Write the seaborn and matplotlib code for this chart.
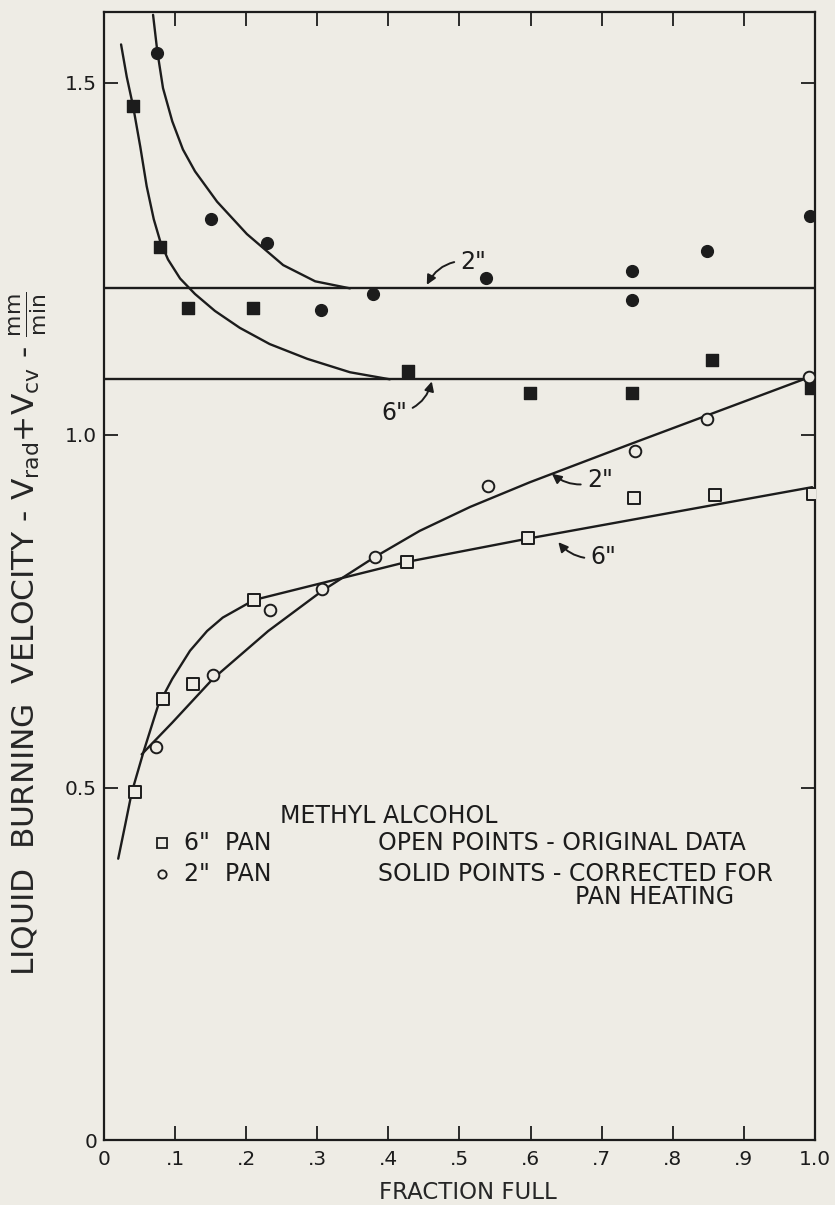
import matplotlib
matplotlib.use("Agg")
import matplotlib.pyplot as plt
import seaborn as sns
import pandas as pd

# ---------------- data ----------------
# solid points (corrected for pan heating)
x_2in_corr = [0.075, 0.150, 0.229, 0.305, 0.378, 0.537, 0.743, 0.743, 0.848, 0.993]
y_2in_corr = [1.542, 1.307, 1.272, 1.178, 1.200, 1.222, 1.232, 1.192, 1.261, 1.311]
x_6in_corr = [0.041, 0.079, 0.118, 0.209, 0.428, 0.599, 0.743, 0.855, 0.994]
y_6in_corr = [1.466, 1.266, 1.180, 1.180, 1.091, 1.059, 1.059, 1.106, 1.066]
# open points (original data)
x_2in_orig = [0.073, 0.153, 0.233, 0.307, 0.381, 0.540, 0.747, 0.848, 0.992]
y_2in_orig = [0.558, 0.660, 0.752, 0.782, 0.827, 0.928, 0.977, 1.023, 1.082]
x_6in_orig = [0.044, 0.083, 0.125, 0.211, 0.426, 0.596, 0.745, 0.859, 0.997]
y_6in_orig = [0.493, 0.626, 0.647, 0.766, 0.820, 0.854, 0.911, 0.915, 0.916]

# hand-drawn curves
cx_2in_corr = [0.069, 0.075, 0.083, 0.096, 0.111, 0.128, 0.159, 0.201, 0.252, 0.297, 0.346]
cy_2in_corr = [1.596, 1.544, 1.492, 1.445, 1.405, 1.374, 1.331, 1.285, 1.241, 1.218, 1.208]
cx_6in_corr = [0.024, 0.032, 0.041, 0.051, 0.060, 0.070, 0.079, 0.090, 0.107, 0.128,
               0.156, 0.191, 0.233, 0.286, 0.346, 0.402]
cy_6in_corr = [1.554, 1.508, 1.466, 1.409, 1.353, 1.306, 1.275, 1.249, 1.222, 1.200,
               1.176, 1.152, 1.129, 1.108, 1.089, 1.079]
level_2in = 1.208   # flat line, 2" pan
level_6in = 1.079   # flat line, 6" pan
cx_2in_orig = [0.053, 0.096, 0.153, 0.231, 0.307, 0.381, 0.444, 0.515, 0.599, 0.740, 0.992]
cy_2in_orig = [0.547, 0.592, 0.654, 0.722, 0.779, 0.827, 0.864, 0.898, 0.933, 0.987, 1.082]
cx_6in_orig = [0.020, 0.030, 0.039, 0.056, 0.076, 0.096, 0.121, 0.145, 0.167, 0.211,
               0.426, 0.596, 0.996]
cy_6in_orig = [0.399, 0.448, 0.493, 0.552, 0.616, 0.654, 0.694, 0.722, 0.741, 0.766,
               0.820, 0.853, 0.926]

x_ticks = [0.0, 0.1, 0.2, 0.3, 0.4, 0.5, 0.6, 0.7, 0.8, 0.9, 1.0]
x_tick_labels = ["0", ".1", ".2", ".3", ".4", ".5", ".6", ".7", ".8", ".9", "1.0"]
y_ticks = [0.0, 0.5, 1.0, 1.5]
y_tick_labels = ["0", "0.5", "1.0", "1.5"]

# ---------------- style ----------------
BG = "#EEECE5"
INK = "#1c1c1c"
sns.set_theme(style="ticks")
plt.rcParams["font.family"] = ["DejaVu Sans"]
plt.rcParams["mathtext.fontset"] = "dejavusans"
plt.rcParams["text.color"] = INK
plt.rcParams["axes.edgecolor"] = INK
plt.rcParams["xtick.color"] = INK
plt.rcParams["ytick.color"] = INK

fig = plt.figure(figsize=(8.35, 12.05), dpi=100, facecolor=BG)
ax = fig.add_axes([104 / 835, 1 - 1140 / 1205, 711 / 835, 1128 / 1205])
ax.set_facecolor(BG)

LW = 1.7
def curve(xs, ys):
    df = pd.DataFrame({"x": xs, "y": ys})
    sns.lineplot(data=df, x="x", y="y", ax=ax, color=INK, lw=LW, sort=False,
                 estimator=None, legend=False)

curve(cx_2in_corr, cy_2in_corr)
curve(cx_6in_corr, cy_6in_corr)
curve([0.0, 1.0], [level_2in, level_2in])
curve([0.0, 1.0], [level_6in, level_6in])
curve(cx_2in_orig, cy_2in_orig)
curve(cx_6in_orig, cy_6in_orig)

def pts(xs, ys, marker, filled, size, lw):
    df = pd.DataFrame({"x": xs, "y": ys})
    sns.scatterplot(data=df, x="x", y="y", ax=ax, marker=marker, s=size,
                    facecolor=INK if filled else BG, edgecolor=INK,
                    linewidth=lw, legend=False, zorder=5)

pts(x_2in_corr, y_2in_corr, "o", True, 72, 1.0)
pts(x_6in_corr, y_6in_corr, "s", True, 80, 1.0)
pts(x_2in_orig, y_2in_orig, "o", False, 70, 1.4)
pts(x_6in_orig, y_6in_orig, "s", False, 70, 1.4)

# ---------------- axes ----------------
ax.set_xlim(0, 1.0)
ax.set_ylim(0, 1.6)
ax.set_xticks(x_ticks)
ax.set_xticklabels(x_tick_labels)
ax.set_yticks(y_ticks)
ax.set_yticklabels(y_tick_labels)
ax.tick_params(axis="both", direction="in", length=10, width=1.3, labelsize=14.5,
               top=True, right=True, labeltop=False, labelright=False)
ax.tick_params(axis="x", pad=7)
ax.tick_params(axis="y", pad=5)
for s in ax.spines.values():
    s.set_linewidth(1.6)
    s.set_color(INK)

ax.set_xlabel("FRACTION FULL", fontsize=16.5)
ax.xaxis.set_label_coords(0.512, -0.036)
ax.set_ylabel(r"LIQUID  BURNING  VELOCITY - V$_{\mathrm{rad}}$+V$_{\mathrm{cv}}$ - $\frac{\mathrm{mm}}{\mathrm{min}}$",
              fontsize=22.5)
ax.yaxis.set_label_coords(-0.078, 0.449)

# ---------------- annotations ----------------
arrow = dict(arrowstyle="-|>", color=INK, lw=1.4, mutation_scale=14,
             shrinkA=2, shrinkB=0)
ax.annotate('2"', xy=(0.454, 1.213), xytext=(0.501, 1.246), fontsize=17,
            ha="left", va="center",
            arrowprops=dict(arrow, connectionstyle="arc3,rad=0.35"))
ax.annotate('6"', xy=(0.461, 1.076), xytext=(0.426, 1.031), fontsize=17,
            ha="right", va="center",
            arrowprops=dict(arrow, connectionstyle="arc3,rad=0.35"))
ax.annotate('2"', xy=(0.630, 0.945), xytext=(0.679, 0.936), fontsize=17,
            ha="left", va="center",
            arrowprops=dict(arrow, connectionstyle="arc3,rad=-0.3"))
ax.annotate('6"', xy=(0.639, 0.848), xytext=(0.684, 0.827), fontsize=17,
            ha="left", va="center",
            arrowprops=dict(arrow, connectionstyle="arc3,rad=-0.3"))

# ---------------- key ----------------
KS = 17
ax.text(0.248, 0.460, "METHYL ALCOHOL", fontsize=KS, ha="left", va="center")
ax.plot([0.082], [0.421], marker="s", ms=6.5, mfc=BG, mec=INK, mew=1.3, ls="none")
ax.plot([0.082], [0.378], marker="o", ms=6, mfc=BG, mec=INK, mew=1.3, ls="none")
ax.text(0.113, 0.421, '6"  PAN', fontsize=KS, ha="left", va="center")
ax.text(0.113, 0.378, '2"  PAN', fontsize=KS, ha="left", va="center")
ax.text(0.385, 0.421, "OPEN POINTS - ORIGINAL DATA", fontsize=KS, ha="left", va="center")
ax.text(0.385, 0.378, "SOLID POINTS - CORRECTED FOR", fontsize=KS, ha="left", va="center")
ax.text(0.662, 0.344, "PAN HEATING", fontsize=KS, ha="left", va="center")

fig.savefig("out.png", dpi=100, facecolor=BG)
